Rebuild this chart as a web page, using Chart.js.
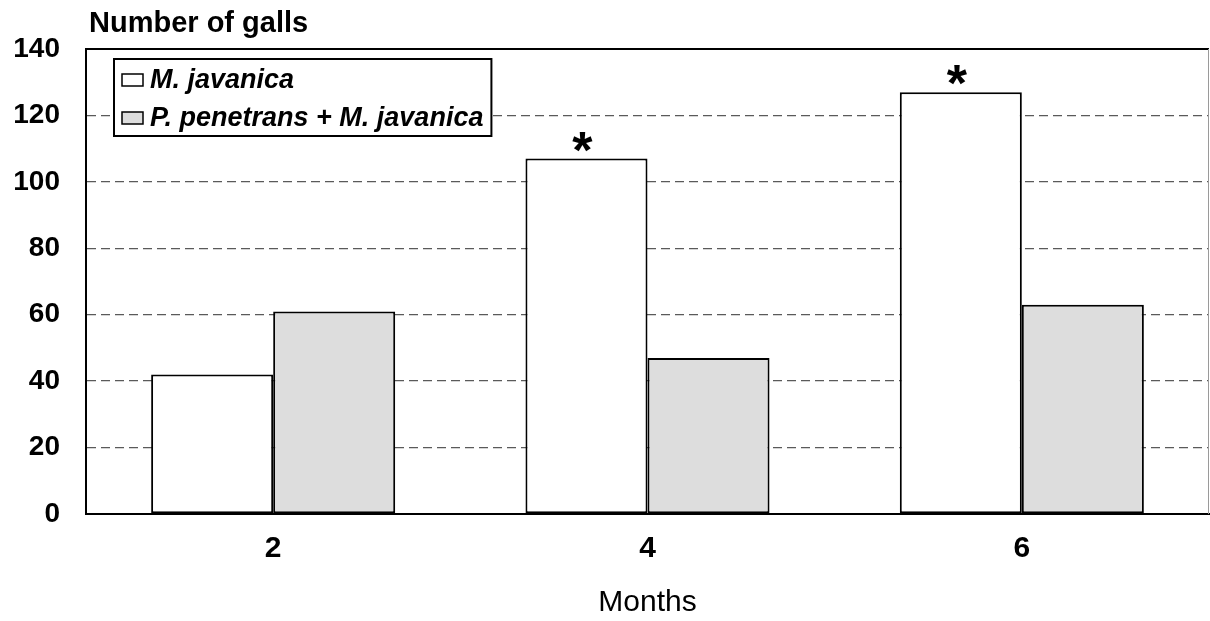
<!DOCTYPE html>
<html>
<head>
<meta charset="utf-8">
<script src="https://cdn.jsdelivr.net/npm/chart.js@4.4.1/dist/chart.umd.min.js"></script>
<style>
    html, body { margin: 0; padding: 0; background: #ffffff; }
    #wrap { width: 1210px; height: 621px; }
</style>
</head>
<body>
<div id="wrap"><canvas id="gallChart" width="1210" height="621"></canvas></div>
<script>
    // data
    const months = ['2', '4', '6'];
    const mJavanica = [42, 107, 127];
    const pPenetransMJavanica = [61, 47, 63];
    const significant = [false, true, true];
    const yTicks = [0, 20, 40, 60, 80, 100, 120, 140];

    const seriesNames = ['M. javanica', 'P. penetrans + M. javanica'];
    const fillColors = ['#ffffff', '#dddddd'];

    const fontFamily = '"Liberation Sans", Arial, sans-serif';

    /* =========================
       custom drawing: title, frame, asterisks, legend
    ========================= */
    const decorPlugin = {
        id: 'decor',
        afterDraw(chart) {
            const ctx = chart.ctx;
            const area = chart.chartArea;
            ctx.save();

            // top and right frame of the plot area
            ctx.strokeStyle = '#000000';
            ctx.lineWidth = 2;
            ctx.beginPath();
            ctx.moveTo(area.left, area.top);
            ctx.lineTo(area.right, area.top);
            ctx.stroke();
            ctx.strokeStyle = '#9a9a9a';
            ctx.lineWidth = 1;
            ctx.beginPath();
            ctx.moveTo(area.right - 0.5, area.top);
            ctx.lineTo(area.right - 0.5, area.bottom);
            ctx.stroke();

            // axis title above the y axis
            ctx.fillStyle = '#000000';
            ctx.font = 'bold 29px ' + fontFamily;
            ctx.textAlign = 'left';
            ctx.textBaseline = 'alphabetic';
            ctx.fillText('Number of galls', area.left + 3, 32);

            // significance stars over the M. javanica bars
            const meta = chart.getDatasetMeta(0);
            ctx.font = 'bold 52px ' + fontFamily;
            ctx.textAlign = 'center';
            significant.forEach(function(flag, i) {
                if (!flag) return;
                const bar = meta.data[i];
                const m = ctx.measureText('*');
                const bottom = bar.y - 7;
                ctx.fillText('*', bar.x - 4, bottom - m.actualBoundingBoxDescent);
            });

            // legend box
            const lx = area.left + 28;
            const ly = area.top + 10;
            ctx.font = 'bold italic 27px ' + fontFamily;
            ctx.textAlign = 'left';
            ctx.textBaseline = 'middle';
            let maxW = 0;
            seriesNames.forEach(function(n) { maxW = Math.max(maxW, ctx.measureText(n).width); });
            const boxW = 36 + maxW + 8;
            const boxH = 77;
            ctx.strokeStyle = '#000000';
            ctx.lineWidth = 2;
            ctx.fillStyle = '#ffffff';
            ctx.fillRect(lx, ly, boxW, boxH);
            ctx.strokeRect(lx, ly, boxW, boxH);
            seriesNames.forEach(function(n, i) {
                const cy = ly + 21 + i * 38;
                ctx.fillStyle = fillColors[i];
                ctx.fillRect(lx + 8, cy - 6, 21, 12);
                ctx.strokeStyle = '#000000';
                ctx.lineWidth = 1.5;
                ctx.strokeRect(lx + 8, cy - 6, 21, 12);
                ctx.fillStyle = '#000000';
                ctx.fillText(n, lx + 36, cy + 1);
            });

            ctx.restore();
        }
    };

    new Chart(document.getElementById('gallChart'), {
        type: 'bar',
        data: {
            labels: months,
            datasets: [
                {
                    label: seriesNames[0],
                    data: mJavanica,
                    backgroundColor: fillColors[0],
                    borderColor: '#000000',
                    borderWidth: 2,
                    borderSkipped: false,
                    categoryPercentage: 0.652,
                    barPercentage: 1.0
                },
                {
                    label: seriesNames[1],
                    data: pPenetransMJavanica,
                    backgroundColor: fillColors[1],
                    borderColor: '#000000',
                    borderWidth: 2,
                    borderSkipped: false,
                    categoryPercentage: 0.652,
                    barPercentage: 1.0
                }
            ]
        },
        options: {
            responsive: false,
            animation: false,
            devicePixelRatio: 1,
            layout: { padding: { top: 49, right: 1, left: 0, bottom: 0 } },
            plugins: {
                legend: { display: false },
                tooltip: { enabled: false }
            },
            scales: {
                x: {
                    grid: { display: false, drawTicks: false },
                    border: { display: true, color: '#000000', width: 2 },
                    ticks: {
                        color: '#000000',
                        padding: 17,
                        font: { family: fontFamily, size: 30, weight: 'bold' }
                    },
                    title: {
                        display: true,
                        text: 'Months',
                        color: '#000000',
                        font: { family: fontFamily, size: 30 },
                        padding: { top: 0, bottom: 0 }
                    },
                    afterFit(scale) { scale.height = 107; }
                },
                y: {
                    min: 0,
                    max: 140,
                    afterBuildTicks(scale) {
                        scale.ticks = yTicks.map(function(v) { return { value: v }; });
                    },
                    grid: {
                        drawTicks: false,
                        color: function(c) {
                            const v = c.tick ? c.tick.value : 0;
                            return (v === 0 || v === 140) ? 'rgba(0,0,0,0)' : '#5a5a5a';
                        },
                        lineWidth: 1.3
                    },
                    border: { display: true, color: '#000000', width: 2, dash: [9, 5] },
                    ticks: {
                        color: '#000000',
                        padding: 26,
                        font: { family: fontFamily, size: 28, weight: 'bold' }
                    },
                    afterFit(scale) { scale.width = 86; }
                }
            }
        },
        plugins: [decorPlugin]
    });
</script>
</body>
</html>
